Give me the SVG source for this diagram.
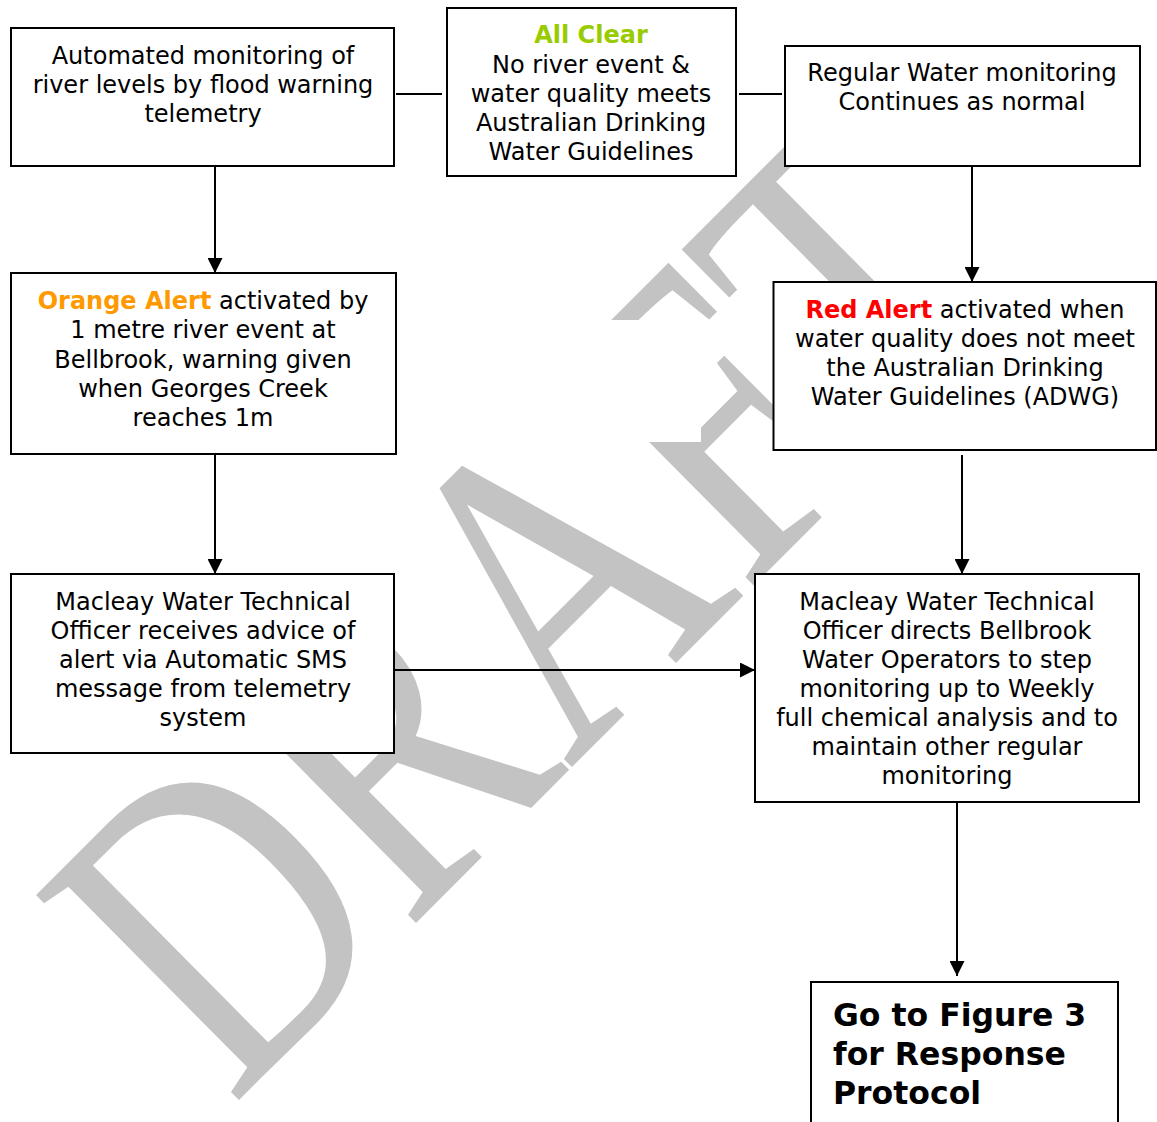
<svg xmlns="http://www.w3.org/2000/svg" width="1157" height="1122" viewBox="0 0 1157 1122">
<style>
.box{fill:#fff;stroke:#000;stroke-width:2}
.t{font-family:"DejaVu Sans",Verdana,sans-serif;font-size:24px;text-anchor:middle;fill:#000}
.b{font-weight:bold}
.conn{stroke:#000;stroke-width:2;fill:none}
.big{font-family:"DejaVu Sans",Verdana,sans-serif;font-size:31.5px;font-weight:bold;fill:#000}
</style>
<defs>
<marker id="arr" viewBox="0 0 15 15" refX="15" refY="7.5" markerWidth="15" markerHeight="15" markerUnits="userSpaceOnUse" orient="auto">
<path d="M0,0 L15,7.5 L0,15 z" fill="#000"/>
</marker>
</defs>
<rect width="1157" height="1122" fill="#fff"/>
<g id="watermark">
<text transform="matrix(2.43,-2.43,3.1,3.13,232,1107)" font-family="'Liberation Serif','Times New Roman',serif" font-size="100" fill="#c3c3c3">DRAFT</text>
<rect x="520" y="320" width="181" height="122" fill="#fff"/>
</g>
<g id="connectors">
<path class="conn" d="M215,166 V273" marker-end="url(#arr)"/>
<path class="conn" d="M396,94 H442"/>
<path class="conn" d="M739,94 H782"/>
<path class="conn" d="M972,166 V282" marker-end="url(#arr)"/>
<path class="conn" d="M215,454 V574" marker-end="url(#arr)"/>
<path class="conn" d="M962,455 V574" marker-end="url(#arr)"/>
<path class="conn" d="M395,670 H755" marker-end="url(#arr)"/>
<path class="conn" d="M957,802 V976" marker-end="url(#arr)"/>
</g>
<g id="n1">
<rect class="box" x="11" y="28" width="383" height="138"/>
<text class="t" x="203" y="63.5">Automated monitoring of</text>
<text class="t" x="203" y="92.5">river levels by flood warning</text>
<text class="t" x="203" y="122">telemetry</text>
</g>
<g id="n2">
<rect class="box" x="447" y="8" width="289" height="168"/>
<text class="t b" x="591" y="43" fill="#99cc00" style="fill:#99cc00">All Clear</text>
<text class="t" x="591" y="72.5">No river event &amp;</text>
<text class="t" x="591" y="101.5">water quality meets</text>
<text class="t" x="591" y="130.5">Australian Drinking</text>
<text class="t" x="591" y="160">Water Guidelines</text>
</g>
<g id="n3">
<rect class="box" x="785" y="46" width="355" height="120"/>
<text class="t" x="962" y="81">Regular Water monitoring</text>
<text class="t" x="962" y="110">Continues as normal</text>
</g>
<g id="n4">
<rect class="box" x="11" y="273" width="385" height="181"/>
<text class="t" x="203" y="308.5"><tspan class="b" style="fill:#ff9900">Orange Alert</tspan> activated by</text>
<text class="t" x="203" y="338">1 metre river event at</text>
<text class="t" x="203" y="367.5">Bellbrook, warning given</text>
<text class="t" x="203" y="397">when Georges Creek</text>
<text class="t" x="203" y="426">reaches 1m</text>
</g>
<g id="n5">
<rect class="box" x="773.5" y="282" width="382.5" height="168"/>
<text class="t" x="965" y="317.5"><tspan class="b" style="fill:#ff0000">Red Alert</tspan> activated when</text>
<text class="t" x="965" y="346.5">water quality does not meet</text>
<text class="t" x="965" y="375.5">the Australian Drinking</text>
<text class="t" x="965" y="404.5">Water Guidelines (ADWG)</text>
</g>
<g id="n6">
<rect class="box" x="11" y="574" width="383" height="179"/>
<text class="t" x="203" y="610">Macleay Water Technical</text>
<text class="t" x="203" y="639">Officer receives advice of</text>
<text class="t" x="203" y="668">alert via Automatic SMS</text>
<text class="t" x="203" y="697">message from telemetry</text>
<text class="t" x="203" y="726">system</text>
</g>
<g id="n7">
<rect class="box" x="755" y="574" width="384" height="228"/>
<text class="t" x="947" y="610">Macleay Water Technical</text>
<text class="t" x="947" y="639">Officer directs Bellbrook</text>
<text class="t" x="947" y="668">Water Operators to step</text>
<text class="t" x="947" y="697">monitoring up to Weekly</text>
<text class="t" x="947" y="726">full chemical analysis and to</text>
<text class="t" x="947" y="755">maintain other regular</text>
<text class="t" x="947" y="784">monitoring</text>
</g>
<g id="n8">
<rect class="box" x="811" y="982" width="307" height="160"/>
<text class="big" x="833" y="1026">Go to Figure 3</text>
<text class="big" x="833" y="1065">for Response</text>
<text class="big" x="833" y="1104">Protocol</text>
</g>
</svg>
